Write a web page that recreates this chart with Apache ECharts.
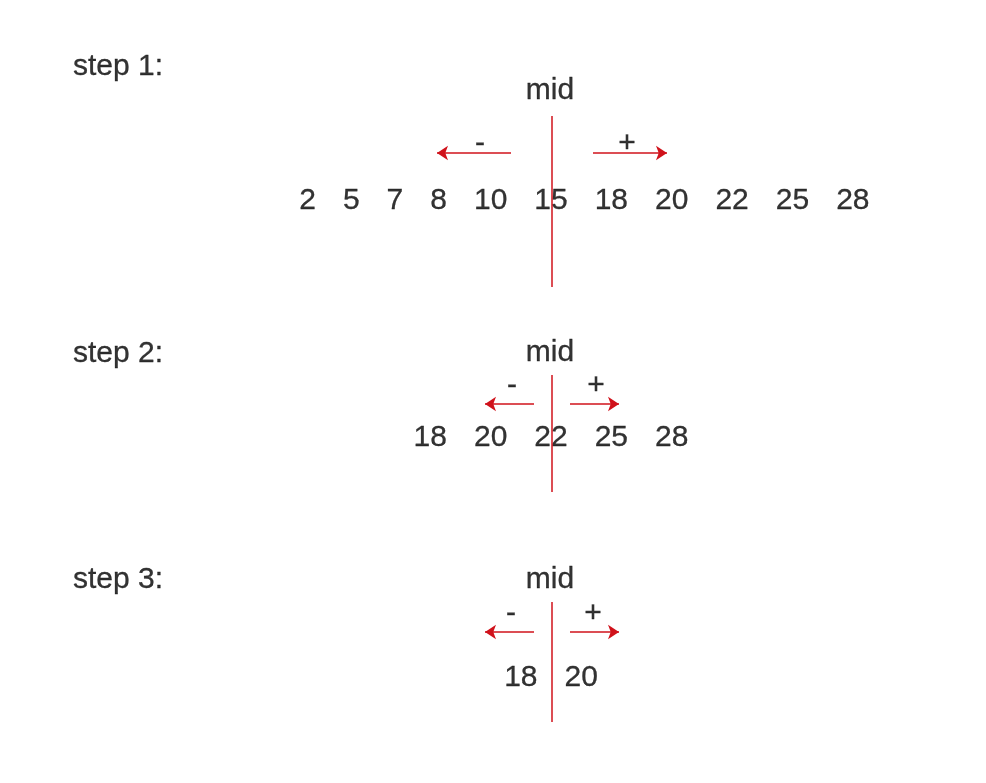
<!DOCTYPE html>
<html>
<head>
<meta charset="utf-8">
<script src="https://cdn.jsdelivr.net/npm/echarts@6/dist/echarts.min.js"></script>
<style>
  html, body { margin: 0; background: #fff; }
  #main { width: 986px; height: 783px; }
</style>
</head>
<body>
<div id="main"></div>
<script>
// the numbers left at each step of the search
const step1 = [2, 5, 7, 8, 10, 15, 18, 20, 22, 25, 28];
const step2 = [18, 20, 22, 25, 28];
const step3 = [18, 20];
const stepNames = ['step 1:', 'step 2:', 'step 3:'];
const midText = 'mid';
const signs = ['-', '+'];

// where each block sits, in the pixel units of the hidden axes
const layout = [
  { label: 67, mid: 91, top: 116, bottom: 287, sign: 144, arrow: 153, nums: 201, gap: 41, len: 74, minus: -72, plus: 75 },
  { label: 354, mid: 353, top: 375, bottom: 492, sign: 386, arrow: 404, nums: 438, gap: 18, len: 49, minus: -40, plus: 44 },
  { label: 580, mid: 580, top: 602, bottom: 722, sign: 614, arrow: 632, nums: 678, gap: 18, len: 49, minus: -41, plus: 41 }
];
const lineX = 552;
const labelX = 73;
const FONT = 30;
const SPACE = 27;
const FAMILY = 'Liberation Sans';
const RED = '#d0121b';
const INK = '#000';

const steps = [step1, step2, step3];

// numbers are typeset like a line of text: fixed gap between them,
// centred so the middle element sits on the red line
const ctx = document.createElement('canvas').getContext('2d');
ctx.font = FONT + 'px "' + FAMILY + '"';
function rowX(values) {
  const xs = [];
  let acc = 0;
  values.forEach(v => {
    const w = ctx.measureText(String(v)).width;
    xs.push(acc + w / 2);
    acc += w + SPACE;
  });
  const c = (values.length - 1) / 2;
  const ci = Math.floor(c);
  const anchor = c > ci ? (xs[ci] + xs[ci + 1]) / 2 : xs[ci];
  return xs.map(x => x - anchor + lineX - 1);
}

const numData = [];
const nameData = [];
const midData = [];
const signData = [];
const lineData = [];
const arrowData = [];

steps.forEach((values, s) => {
  const L = layout[s];
  const xs = rowX(values);
  values.forEach((v, i) => numData.push({ value: [xs[i], L.nums], name: String(v) }));
  nameData.push({ value: [labelX, L.label], name: stepNames[s] });
  midData.push({ value: [lineX - 2, L.mid], name: midText });
  signData.push({ value: [lineX + L.minus, L.sign], name: signs[0] });
  signData.push({ value: [lineX + L.plus, L.sign], name: signs[1] });
  lineData.push({ coords: [[lineX, L.top], [lineX, L.bottom]] });
  arrowData.push({ coords: [[lineX - L.gap, L.arrow], [lineX - L.gap - L.len, L.arrow]] });
  arrowData.push({ coords: [[lineX + L.gap, L.arrow], [lineX + L.gap + L.len, L.arrow]] });
});

function textSeries(data, align) {
  return {
    type: 'scatter',
    data: data,
    symbolSize: 1,
    itemStyle: { color: 'rgba(0,0,0,0)' },
    silent: true,
    z: 2,
    label: {
      show: true,
      position: 'inside',
      align: align,
      verticalAlign: 'middle',
      formatter: '{b}',
      color: INK,
      textBorderColor: INK,
      textBorderWidth: 0.3,
      fontSize: FONT,
      fontFamily: FAMILY
    }
  };
}

const option = {
  animation: false,
  backgroundColor: '#fff',
  textStyle: { fontFamily: FAMILY },
  grid: { left: 0, right: 0, top: 0, bottom: 0 },
  xAxis: { type: 'value', min: 0, max: 986, show: false },
  yAxis: { type: 'value', min: 0, max: 783, inverse: true, show: false },
  series: [
    textSeries(nameData, 'left'),
    textSeries(midData, 'center'),
    textSeries(signData, 'center'),
    textSeries(numData, 'center'),
    {
      type: 'lines',
      coordinateSystem: 'cartesian2d',
      data: lineData,
      symbol: 'none',
      silent: true,
      z: 3,
      lineStyle: { color: RED, width: 1.5, opacity: 1 }
    },
    {
      type: 'lines',
      coordinateSystem: 'cartesian2d',
      data: arrowData,
      symbol: ['none', 'arrow'],
      symbolSize: [8, 11],
      silent: true,
      z: 3,
      lineStyle: { color: RED, width: 1.5, opacity: 1 }
    }
  ]
};

const myChart = echarts.init(document.getElementById('main'));
myChart.setOption(option);
</script>
</body>
</html>
